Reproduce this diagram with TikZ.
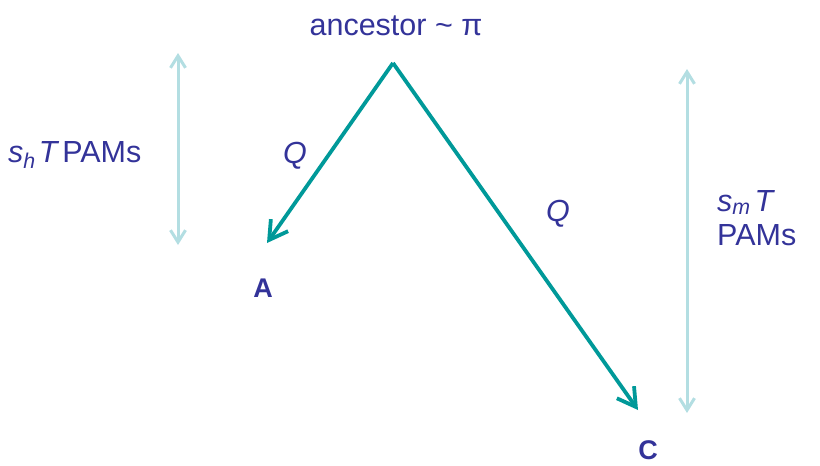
\documentclass[tikz,border=0pt]{standalone}
\usepackage{fontspec}
\setmainfont{Liberation Sans}
\usetikzlibrary{arrows.meta}
\definecolor{labelblue}{HTML}{333399}
\definecolor{treeteal}{HTML}{009999}
\definecolor{lightteal}{HTML}{B3DEE2}

\begin{document}
\begin{tikzpicture}[x=1pt, y=-1pt,
    txt/.style={text=labelblue, font=\fontsize{30.5}{34}\selectfont, inner sep=0pt},
    leaf/.style={text=labelblue, font=\fontsize{27}{30}\selectfont\bfseries, inner sep=0pt, anchor=base},
    branch/.style={draw=treeteal, line width=3.8pt, -{Straight Barb[length=18pt, width=21pt, line width=3.8pt]}},
    span/.style={draw=lightteal, line width=3pt, {Straight Barb[length=12pt, width=15pt, line width=3pt]}-{Straight Barb[length=12pt, width=15pt, line width=3pt]}}]
            \useasboundingbox (0,0) rectangle (820,466);
            % ==== TREE ====
            \node[txt, anchor=base] (anc) at (396,35) {ancestor \textasciitilde{} π};
            \coordinate (root) at (393,63);
            \coordinate (tipA) at (267,243);
            \coordinate (tipC) at (638,410);
            \draw[branch] (root) -- (tipA);
            \draw[branch] (root) -- (tipC);
            \node[txt] (qA) at (295,156) {\textit{Q}};
            \node[txt] (qC) at (558,214) {\textit{Q}};
            \node[leaf] (A) at (263,297.5) {A};
            \node[leaf] (C) at (648,459) {C};

            % ==== TIME SPANS ====
            \coordinate (hTop) at (178,53);
            \coordinate (hBot) at (178,245);
            \coordinate (mTop) at (687,69);
            \coordinate (mBot) at (687,413);
            \draw[span] (hTop) -- (hBot);
            \draw[span] (mTop) -- (mBot);
            \node[txt, anchor=base west] (sh) at (8,162)
                {\textit{s}\textsubscript{\textit{h}}\kern3pt\textit{T}\kern3pt PAMs};
            \node[txt, anchor=base west, align=left] (sm) at (717,245)
                {\textit{s}\textsubscript{\textit{m}}\kern4pt\textit{T}\\PAMs};
         \end{tikzpicture}
\end{document}
